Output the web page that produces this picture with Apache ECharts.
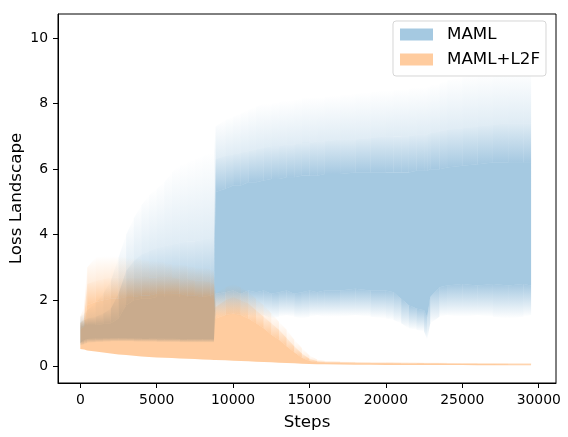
<!DOCTYPE html>
<html>
<head>
<meta charset="utf-8">
<title>Loss Landscape</title>
<script src="https://cdn.jsdelivr.net/npm/echarts@6/dist/echarts.min.js"></script>
<style>
html, body { margin: 0; padding: 0; background: #fff; }
#chart { width: 568px; height: 437px; }
</style>
</head>
<body>
<div id="chart"></div>
<script>
/*
 * training steps (x) shared by every band
 */
var steps = [0, 250, 450, 1000, 1500, 2000, 2500, 3000, 3500, 4000, 4500, 5000, 5500, 6000, 6500, 7000, 7500, 8000, 8500, 8750,
	8850, 9500, 10000, 10500, 11000, 11500, 12000, 12500, 13000, 13500, 14000, 14500, 15000, 15500, 16000, 17000, 18000, 19000, 20000,
	20500, 21000, 21500, 22000, 22500, 22700, 22900,
	23500, 24000, 25000, 26000, 27000, 28000, 29000, 29500];

/*
 * MAML - lower faint edge, dense lower edge, dense upper edge, medium upper edge, faint upper edge
 */
var mamlLow = [0.62, 0.66, 0.70, 0.72, 0.73, 0.74, 0.74, 0.74, 0.74, 0.73, 0.73, 0.73, 0.72, 0.72, 0.72, 0.71, 0.71, 0.71, 0.71, 0.71,
	1.55, 1.5, 1.6, 1.5, 1.55, 1.5, 1.55, 1.45, 1.5, 1.55, 1.5, 1.45, 1.5, 1.55, 1.5, 1.5, 1.55, 1.5, 1.45,
	1.4, 1.3, 1.15, 1.1, 1.05, 0.8, 1.3,
	1.5, 1.55, 1.5, 1.55, 1.5, 1.45, 1.5, 1.55];
var mamlLowCore = [0.70, 0.78, 0.82, 0.84, 0.84, 0.85, 0.85, 0.85, 0.84, 0.84, 0.84, 0.83, 0.83, 0.83, 0.82, 0.82, 0.82, 0.82, 0.82, 0.82,
	2.2, 2.25, 2.3, 2.2, 2.3, 2.25, 2.3, 2.2, 2.25, 2.3, 2.2, 2.25, 2.3, 2.25, 2.3, 2.3, 2.35, 2.3, 2.3,
	2.25, 2.05, 1.85, 1.75, 1.7, 1.5, 2.1,
	2.4, 2.45, 2.5, 2.45, 2.5, 2.45, 2.5, 2.45];
var mamlHighCore = [1.2, 1.25, 1.25, 1.25, 1.28, 1.3, 1.45, 1.85, 2.0, 2.05, 2.05, 2.1, 2.1, 2.1, 2.1, 2.1, 2.1, 2.1, 2.15, 2.2,
	5.3, 5.4, 5.5, 5.5, 5.6, 5.6, 5.65, 5.7, 5.7, 5.75, 5.75, 5.8, 5.8, 5.8, 5.85, 5.85, 5.9, 5.9, 5.9,
	5.9, 5.9, 5.9, 5.95, 5.95, 5.95, 6.0,
	6.0, 6.05, 6.1, 6.15, 6.2, 6.2, 6.2, 6.2];
var mamlHighMid = [1.35, 1.4, 1.45, 1.5, 1.6, 1.75, 2.2, 2.9, 3.2, 3.4, 3.5, 3.6, 3.65, 3.7, 3.75, 3.8, 3.8, 3.85, 3.9, 3.9,
	6.3, 6.4, 6.45, 6.5, 6.55, 6.6, 6.65, 6.7, 6.7, 6.75, 6.75, 6.8, 6.8, 6.85, 6.85, 6.9, 6.9, 6.95, 7.0,
	7.0, 7.0, 7.0, 7.05, 7.05, 7.05, 7.1,
	7.15, 7.2, 7.25, 7.3, 7.35, 7.4, 7.4, 7.4];
var mamlHigh = [1.5, 1.6, 1.7, 1.9, 2.2, 2.6, 3.3, 4.0, 4.5, 4.9, 5.2, 5.4, 5.6, 5.9, 6.1, 6.2, 6.3, 6.4, 6.5, 6.5,
	7.3, 7.5, 7.6, 7.7, 7.8, 7.9, 8.0, 8.0, 8.05, 8.1, 8.1, 8.15, 8.2, 8.2, 8.2, 8.25, 8.3, 8.35, 8.4,
	8.4, 8.45, 8.45, 8.5, 8.5, 8.5, 8.55,
	8.6, 8.7, 8.8, 8.9, 8.95, 9.0, 9.0, 9.0];

/*
 * MAML+L2F - lower edge, dense upper edge, medium upper edge, faint upper edge
 */
var l2fLow = [0.52, 0.5, 0.47, 0.44, 0.41, 0.38, 0.35, 0.33, 0.31, 0.29, 0.27, 0.26, 0.25, 0.24, 0.23, 0.22, 0.21, 0.2, 0.19, 0.18,
	0.18, 0.17, 0.16, 0.15, 0.14, 0.13, 0.12, 0.11, 0.1, 0.09, 0.08, 0.07, 0.06, 0.055, 0.05, 0.045, 0.04, 0.035, 0.03,
	0.03, 0.03, 0.03, 0.03, 0.03, 0.03, 0.03,
	0.025, 0.025, 0.025, 0.02, 0.02, 0.02, 0.02, 0.02];
var l2fHighCore = [1.1, 1.2, 1.85, 1.95, 2.0, 2.05, 2.05, 2.1, 2.1, 2.15, 2.15, 2.2, 2.2, 2.2, 2.2, 2.15, 2.15, 2.1, 2.1, 2.05,
	1.45, 1.55, 1.6, 1.55, 1.45, 1.3, 1.15, 0.95, 0.8, 0.6, 0.42, 0.25, 0.15, 0.11, 0.1, 0.09, 0.085, 0.08, 0.075,
	0.075, 0.07, 0.07, 0.07, 0.07, 0.07, 0.07,
	0.065, 0.065, 0.06, 0.06, 0.06, 0.055, 0.055, 0.055];
var l2fHighMid = [1.3, 1.45, 2.5, 2.6, 2.65, 2.7, 2.7, 2.7, 2.7, 2.7, 2.7, 2.7, 2.7, 2.7, 2.65, 2.65, 2.6, 2.6, 2.55, 2.5,
	1.8, 2.0, 2.1, 2.0, 1.9, 1.7, 1.5, 1.3, 1.1, 0.85, 0.6, 0.38, 0.22, 0.15, 0.13, 0.12, 0.11, 0.1, 0.1,
	0.1, 0.095, 0.095, 0.095, 0.09, 0.09, 0.09,
	0.09, 0.085, 0.085, 0.08, 0.08, 0.075, 0.075, 0.075];
var l2fHigh = [1.5, 1.8, 3.0, 3.3, 3.35, 3.35, 3.35, 3.3, 3.3, 3.25, 3.2, 3.2, 3.15, 3.1, 3.1, 3.05, 3.0, 3.0, 2.95, 2.9,
	2.2, 2.4, 2.5, 2.4, 2.25, 2.05, 1.85, 1.6, 1.35, 1.1, 0.8, 0.55, 0.32, 0.2, 0.16, 0.14, 0.13, 0.12, 0.12,
	0.12, 0.115, 0.115, 0.11, 0.11, 0.11, 0.11,
	0.11, 0.105, 0.1, 0.1, 0.1, 0.095, 0.09, 0.09];

var xTicks = [0, 5000, 10000, 15000, 20000, 25000, 30000];
var yTicks = [0, 2, 4, 6, 8, 10];

var FONT = 'DejaVu Sans';
var BLUE = [31, 119, 180];
var ORANGE = [255, 127, 14];

var rgba = function(rgb, a) {
	return 'rgba(' + rgb.join(',') + ',' + a + ')';
};

/*
 * one filled band between two boundary arrays,
 * aLow / aHigh = opacity at lower / upper boundary
 */
function bandSeries(name, lower, upper, rgb, aLow, aHigh) {
	return {
		name: name,
		type: 'custom',
		silent: true,
		data: [[steps[0], lower[0]]],
		encode: {x: 0, y: 1},
		renderItem: function(params, api) {
			var lo = [], hi = [];
			for (var i = 0; i < steps.length; i++) {
				lo.push(api.coord([steps[i], lower[i]]));
				hi.push(api.coord([steps[i], upper[i]]));
			}
			if (aLow === aHigh) {
				return {
					type: 'polygon',
					shape: {points: hi.concat(lo.slice().reverse())},
					style: {fill: rgba(rgb, aLow)}
				};
			}
			var children = [];
			for (var n = 0; n < steps.length - 1; n++) {
				children.push({
					type: 'polygon',
					shape: {points: [hi[n], hi[n + 1], lo[n + 1], lo[n]]},
					style: {
						fill: new echarts.graphic.LinearGradient(0, 0, 0, 1, [
							{offset: 0, color: rgba(rgb, aHigh)},
							{offset: 1, color: rgba(rgb, aLow)}
						])
					}
				});
			}
			return {type: 'group', children: children};
		}
	};
}

var plainNumber = function(v) {
	return String(v);
};

var chart = echarts.init(document.getElementById('chart'));
var option = {
	animation: false,
	backgroundColor: '#fff',
	grid: {
		left: 58, right: 12, top: 14, bottom: 54,
		show: true, borderColor: '#000', borderWidth: 1,
		outerBoundsMode: 'none'
	},
	legend: {
		data: [
			{name: 'MAML', itemStyle: {color: rgba(BLUE, 0.4), borderWidth: 0}},
			{name: 'MAML+L2F', itemStyle: {color: rgba(ORANGE, 0.4), borderWidth: 0}}
		],
		icon: 'rect',
		orient: 'vertical',
		left: 393, top: 21,
		itemWidth: 33, itemHeight: 12, itemGap: 8,
		padding: [5, 6, 8, 7],
		backgroundColor: 'rgba(255,255,255,0.8)',
		borderColor: 'rgba(204,204,204,0.8)',
		borderWidth: 1,
		borderRadius: 3,
		selectedMode: false,
		textStyle: {fontFamily: FONT, fontSize: 16.7, color: '#000', lineHeight: 16, padding: [0, 0, 0, 9]}
	},
	xAxis: {
		type: 'value',
		min: -1460, max: 31130,
		name: 'Steps',
		nameLocation: 'middle',
		nameGap: 31,
		nameMoveOverlap: false,
		nameTextStyle: {fontFamily: FONT, fontSize: 16.7, color: '#000'},
		axisLine: {show: true, onZero: false, lineStyle: {color: '#000', width: 1}},
		axisTick: {show: true, length: 5, customValues: xTicks, lineStyle: {color: '#000'}},
		axisLabel: {customValues: xTicks, formatter: plainNumber, margin: 10, fontFamily: FONT, fontSize: 13.9, color: '#000'},
		splitLine: {show: false}
	},
	yAxis: {
		type: 'value',
		min: -0.52, max: 10.73,
		name: 'Loss Landscape',
		nameLocation: 'middle',
		nameGap: 33,
		nameMoveOverlap: false,
		nameTextStyle: {fontFamily: FONT, fontSize: 16.7, color: '#000'},
		axisLine: {show: true, onZero: false, lineStyle: {color: '#000', width: 1}},
		axisTick: {show: true, length: 5, customValues: yTicks, lineStyle: {color: '#000'}},
		axisLabel: {customValues: yTicks, formatter: plainNumber, margin: 10, fontFamily: FONT, fontSize: 13.9, color: '#000'},
		splitLine: {show: false}
	},
	series: [
		bandSeries('maml-low', mamlLow, mamlLowCore, BLUE, 0, 0.4),
		bandSeries('MAML', mamlLowCore, mamlHighCore, BLUE, 0.4, 0.4),
		bandSeries('maml-mid', mamlHighCore, mamlHighMid, BLUE, 0.4, 0.14),
		bandSeries('maml-high', mamlHighMid, mamlHigh, BLUE, 0.14, 0),
		bandSeries('MAML+L2F', l2fLow, l2fHighCore, ORANGE, 0.4, 0.4),
		bandSeries('l2f-mid', l2fHighCore, l2fHighMid, ORANGE, 0.4, 0.15),
		bandSeries('l2f-high', l2fHighMid, l2fHigh, ORANGE, 0.15, 0)
	]
};
chart.setOption(option);
</script>
</body>
</html>
